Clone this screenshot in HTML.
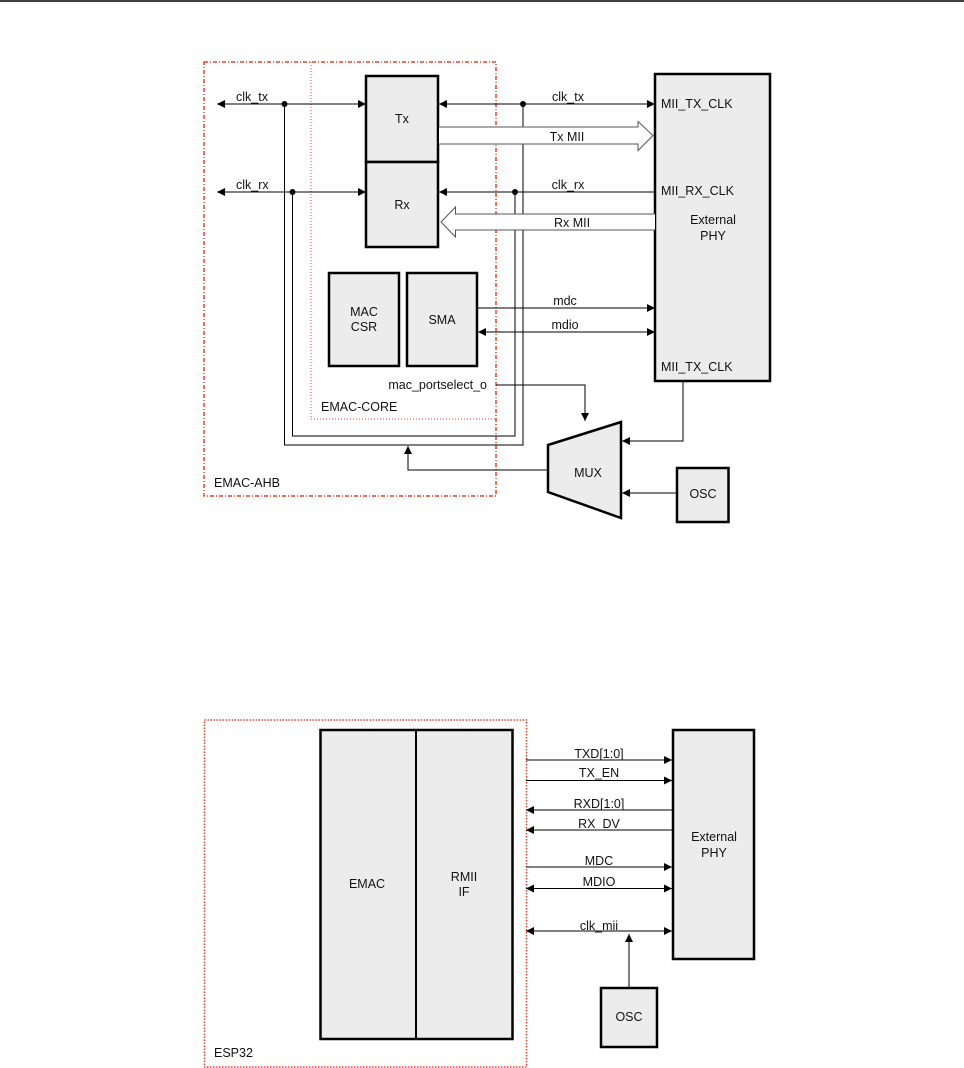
<!DOCTYPE html>
<html><head><meta charset="utf-8"><style>
html,body{margin:0;padding:0;background:#fff;}
svg{display:block;}
text{font-family:"Liberation Sans",Arial,sans-serif;font-size:12.5px;fill:#111;}
</style></head><body>
<svg width="964" height="1068" viewBox="0 0 964 1068" xmlns="http://www.w3.org/2000/svg">
<defs>
<marker id="a" viewBox="0 0 10 10" refX="10" refY="5" markerWidth="8" markerHeight="8" markerUnits="userSpaceOnUse" orient="auto-start-reverse"><path d="M0,0 L10,5 L0,10 z" fill="#000"/></marker>
</defs>
<line x1="0" y1="1" x2="964" y2="1" stroke="#000" stroke-width="1.5"/>

<rect x="204" y="62" width="292" height="434" fill="none" stroke="#e8402a" stroke-width="1.5" stroke-dasharray="4,2,1,2"/>
<path d="M311,62 V419 H496" fill="none" stroke="#e8402a" stroke-width="1" stroke-dasharray="1,2"/>

<rect x="366" y="76" width="72" height="86" fill="#ececec" stroke="#000" stroke-width="2.5"/>
<rect x="366" y="162" width="72" height="85" fill="#ececec" stroke="#000" stroke-width="2.5"/>
<text x="402" y="123" text-anchor="middle">Tx</text>
<text x="402" y="209" text-anchor="middle">Rx</text>

<rect x="329" y="273" width="70" height="93" fill="#ececec" stroke="#000" stroke-width="2.5"/>
<rect x="407" y="273" width="70" height="93" fill="#ececec" stroke="#000" stroke-width="2.5"/>
<text x="364" y="316" text-anchor="middle">MAC</text>
<text x="364" y="331" text-anchor="middle">CSR</text>
<text x="442" y="324" text-anchor="middle">SMA</text>

<rect x="655" y="74" width="115" height="307" fill="#ececec" stroke="#000" stroke-width="2.5"/>
<text x="661" y="108">MII_TX_CLK</text>
<text x="661" y="195">MII_RX_CLK</text>
<text x="713" y="224" text-anchor="middle">External</text>
<text x="713" y="240" text-anchor="middle">PHY</text>
<text x="661" y="371">MII_TX_CLK</text>

<line x1="217" y1="104" x2="366" y2="104" stroke="#000" marker-start="url(#a)" marker-end="url(#a)"/>
<line x1="217" y1="192" x2="366" y2="192" stroke="#000" marker-start="url(#a)" marker-end="url(#a)"/>
<circle cx="284.5" cy="104" r="3" fill="#000"/>
<circle cx="292.5" cy="192" r="3" fill="#000"/>
<text x="236" y="101">clk_tx</text>
<text x="236" y="189">clk_rx</text>

<line x1="439" y1="104" x2="655" y2="104" stroke="#000" marker-start="url(#a)" marker-end="url(#a)"/>
<line x1="439" y1="192" x2="655" y2="192" stroke="#000" marker-start="url(#a)"/>
<circle cx="523" cy="104" r="3" fill="#000"/>
<circle cx="515" cy="192" r="3" fill="#000"/>
<text x="568" y="101" text-anchor="middle">clk_tx</text>
<text x="568" y="189" text-anchor="middle">clk_rx</text>

<path d="M284.5,104 V445 H523 V104" fill="none" stroke="#000"/>
<path d="M292.5,192 V436 H515 V192" fill="none" stroke="#000"/>

<path d="M439,127 H638 V121.5 L653,135.5 L638,150.5 V144 H439" fill="#fff" stroke="#555" stroke-width="1"/>
<text x="567" y="141" text-anchor="middle">Tx MII</text>
<path d="M655,214 H455.5 V207 L441,222 L455.5,237 V230 H655" fill="#fff" stroke="#555" stroke-width="1"/>
<text x="572" y="227" text-anchor="middle">Rx MII</text>

<line x1="477" y1="308" x2="655" y2="308" stroke="#000" marker-end="url(#a)"/>
<line x1="478" y1="332" x2="655" y2="332" stroke="#000" marker-start="url(#a)" marker-end="url(#a)"/>
<text x="565" y="305" text-anchor="middle">mdc</text>
<text x="565" y="329" text-anchor="middle">mdio</text>

<text x="487" y="389" text-anchor="end">mac_portselect_o</text>
<text x="321" y="411">EMAC-CORE</text>
<text x="214" y="487">EMAC-AHB</text>
<path d="M496,385 H585 V421" fill="none" stroke="#000" marker-end="url(#a)"/>

<path d="M548,445 L621,422 L621,518 L548,492 Z" fill="#ececec" stroke="#000" stroke-width="2.5"/>
<text x="588" y="477" text-anchor="middle">MUX</text>
<path d="M683,381 V441 H622" fill="none" stroke="#000" marker-end="url(#a)"/>
<rect x="677" y="468" width="51.5" height="54" fill="#ececec" stroke="#000" stroke-width="2.5"/>
<text x="703" y="498" text-anchor="middle">OSC</text>
<line x1="677" y1="493" x2="622" y2="493" stroke="#000" marker-end="url(#a)"/>
<path d="M548,470 H408 V446" fill="none" stroke="#000" marker-end="url(#a)"/>

<rect x="204.5" y="720" width="322" height="347" fill="none" stroke="#e8402a" stroke-width="1.5" stroke-dasharray="1.5,1.5"/>
<rect x="320.5" y="730" width="192" height="309" fill="#ececec" stroke="#000" stroke-width="2.5"/>
<line x1="416" y1="730" x2="416" y2="1039" stroke="#000" stroke-width="2"/>
<text x="367" y="888" text-anchor="middle">EMAC</text>
<text x="464" y="881" text-anchor="middle">RMII</text>
<text x="464" y="896" text-anchor="middle">IF</text>

<rect x="673" y="730" width="81" height="229" fill="#ececec" stroke="#000" stroke-width="2.5"/>
<text x="714" y="841" text-anchor="middle">External</text>
<text x="714" y="857" text-anchor="middle">PHY</text>

<line x1="526" y1="760" x2="672" y2="760" stroke="#000" marker-end="url(#a)"/>
<line x1="526" y1="780.5" x2="672" y2="780.5" stroke="#000" marker-end="url(#a)"/>
<line x1="672" y1="810" x2="526" y2="810" stroke="#000" marker-end="url(#a)"/>
<line x1="672" y1="830" x2="526" y2="830" stroke="#000" marker-end="url(#a)"/>
<line x1="526" y1="867" x2="672" y2="867" stroke="#000" marker-end="url(#a)"/>
<line x1="526" y1="888.5" x2="672" y2="888.5" stroke="#000" marker-start="url(#a)" marker-end="url(#a)"/>
<line x1="526" y1="931" x2="672" y2="931" stroke="#000" marker-start="url(#a)" marker-end="url(#a)"/>
<text x="599" y="758" text-anchor="middle">TXD[1:0]</text>
<text x="599" y="777" text-anchor="middle">TX_EN</text>
<text x="599" y="808" text-anchor="middle">RXD[1:0]</text>
<text x="599" y="828" text-anchor="middle">RX_DV</text>
<text x="599" y="865" text-anchor="middle">MDC</text>
<text x="599" y="886" text-anchor="middle">MDIO</text>
<text x="599" y="930" text-anchor="middle">clk_mii</text>

<rect x="601" y="988" width="56" height="59" fill="#ececec" stroke="#000" stroke-width="2.5"/>
<text x="629" y="1021" text-anchor="middle">OSC</text>
<line x1="629" y1="988" x2="629" y2="934" stroke="#000" marker-end="url(#a)"/>
<text x="214" y="1057">ESP32</text>
</svg>
</body></html>
